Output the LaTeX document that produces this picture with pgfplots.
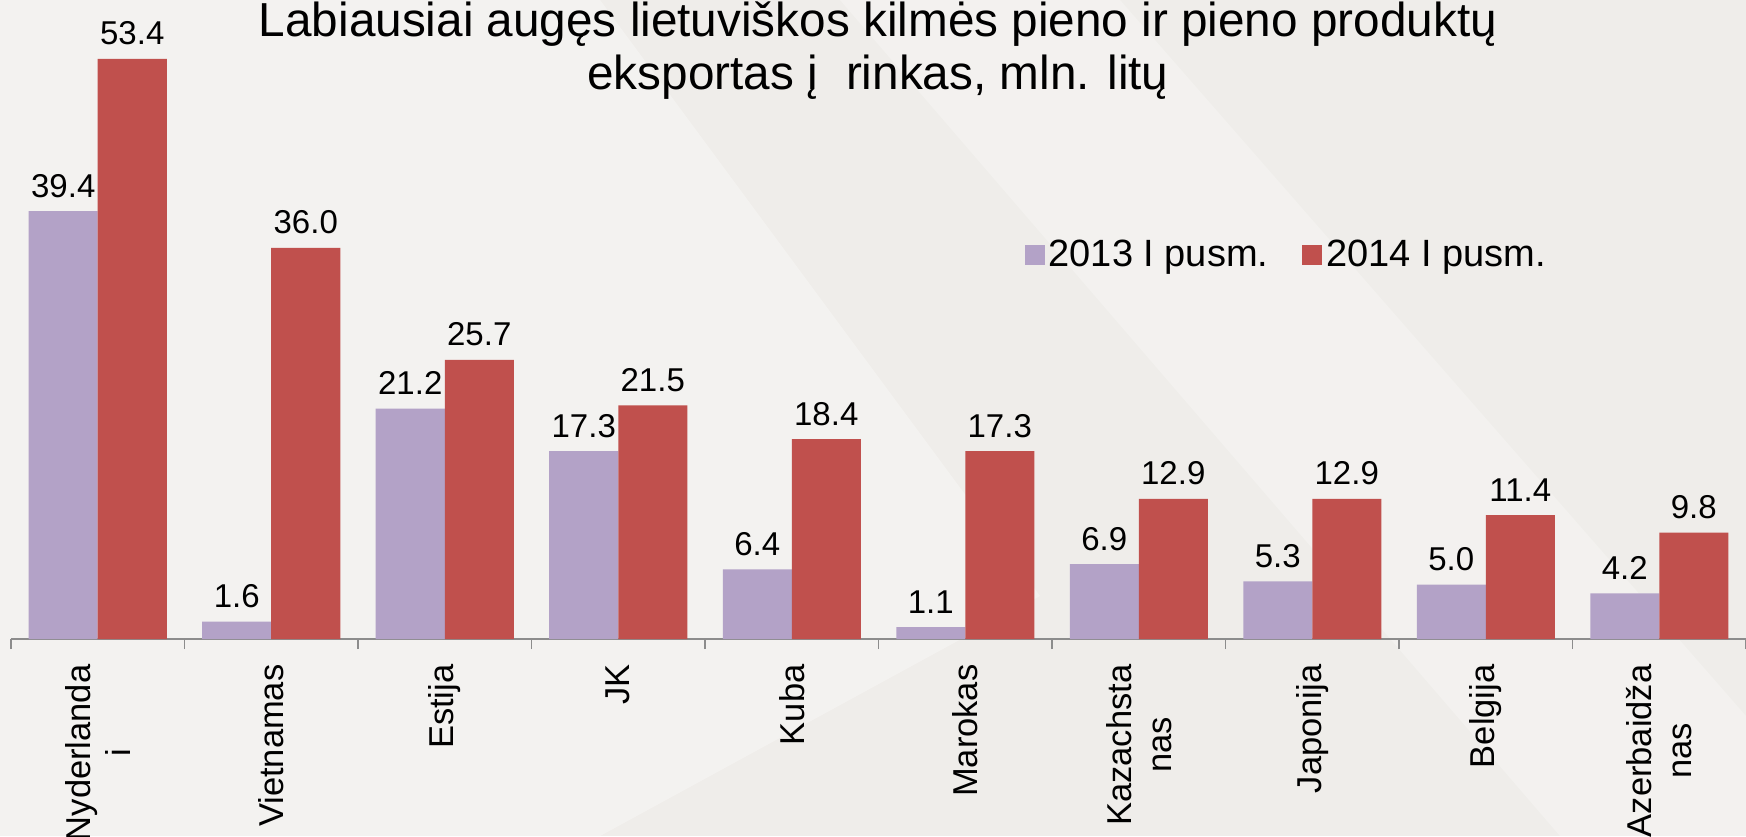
\documentclass[border=0pt]{standalone}
\usepackage{graphicx}
\usepackage{fontspec}
\setmainfont{Liberation Sans}
\usepackage{pgfplots}
\pgfplotsset{compat=1.18}
\definecolor{bgc}{HTML}{EFEDEA}
\definecolor{bglight}{HTML}{F6F5F3}
\definecolor{ser1}{HTML}{B3A2C7}
\definecolor{ser2}{HTML}{C0504D}
\definecolor{axc}{HTML}{8C8C8C}
\begin{document}
\begin{tikzpicture}
\fill[bgc] (0,0) rectangle (873pt,418pt);
\fill[bglight,opacity=0.7] (0,418pt) -- (300pt,418pt) -- (520pt,120pt) -- (300pt,0) -- (0,0) -- cycle;
\fill[white,opacity=0.25] (560pt,418pt) -- (873pt,60pt) -- (873pt,0) -- (780pt,0) -- (420pt,418pt) -- cycle;
\useasboundingbox (0,0) rectangle (873pt,418pt);
\begin{axis}[
  at={(5.5pt,98.5pt)}, anchor=south west,
  width=867.5pt, height=315pt, scale only axis,
  xmin=-0.5, xmax=9.5, ymin=0, ymax=58,
  ybar=0pt, bar width=34.5pt,
  clip=false,
  axis y line=none,
  axis x line=bottom,
  x axis line style={-, axc, line width=1pt},
  xtick={0,...,9},
  xticklabels={{Nyderlanda\\i},Vietnamas,Estija,JK,Kuba,Marokas,{Kazachsta\\nas},Japonija,Belgija,{Azerbaidža\\nas}},
  major x tick style={draw=none},
  minor xtick={-0.5,0.5,...,9.5},
  minor x tick style={axc, line width=0.8pt},
  minor tick length=5pt,
  tick align=outside,
  xticklabel style={rotate=90, anchor=east, align=center, font=\fontsize{17.25}{20}\selectfont, text=black},
  xticklabel shift=5pt,
  /pgf/number format/.cd, fixed, fixed zerofill, precision=1, assume math mode=true, /pgfplots/.cd,
  nodes near coords={\pgfmathprintnumber{\pgfplotspointmeta}},
  every node near coord/.append style={font=\fontsize{16.5}{18}\selectfont, text=black, anchor=base, yshift=7pt, inner sep=0pt},
  legend style={draw=none, fill=none, at={(0.584,0.61)}, anchor=west, inner sep=0pt, legend columns=2,
    font=\fontsize{19}{21}\selectfont,
    /tikz/every even column/.append style={column sep=15pt}},
  legend cell align=left,
]
\addplot[fill=ser1, draw=none, legend image code/.code={\fill[ser1] (0pt,-5pt) rectangle (10pt,5pt);}]
  coordinates {(0,39.4) (1,1.6) (2,21.2) (3,17.3) (4,6.4) (5,1.1) (6,6.9) (7,5.3) (8,5.0) (9,4.2)};
\addlegendentry{2013 I pusm.}
\addplot[fill=ser2, draw=none, legend image code/.code={\fill[ser2] (0pt,-5pt) rectangle (10pt,5pt);}]
  coordinates {(0,53.4) (1,36.0) (2,25.7) (3,21.5) (4,18.4) (5,17.3) (6,12.9) (7,12.9) (8,11.4) (9,9.8)};
\addlegendentry{2014 I pusm.}
\end{axis}
\node[anchor=base, inner sep=0pt] at (439pt,399.5pt) {\fontsize{23.85}{26.5}\selectfont Labiausiai augęs lietuviškos kilmės pieno ir pieno produktų};
\node[anchor=base, inner sep=0pt] at (439pt,373pt) {\fontsize{23.85}{26.5}\selectfont eksportas į\hspace{14pt}rinkas, mln. litų};
\end{tikzpicture}
\end{document}
